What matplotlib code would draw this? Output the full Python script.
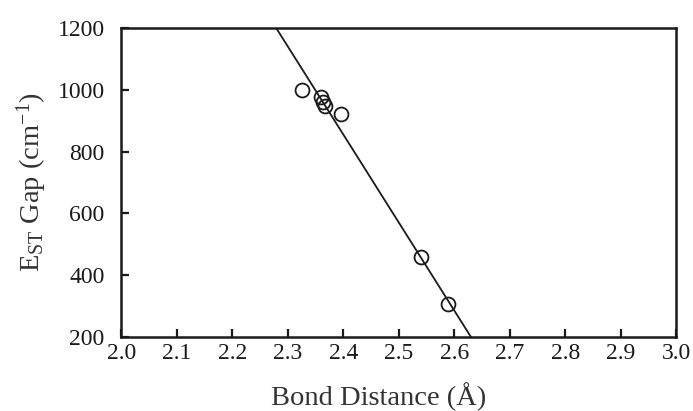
import matplotlib.pyplot as plt
import numpy as np

plt.rcParams['font.family'] = ['Liberation Serif', 'DejaVu Serif']
plt.rcParams['mathtext.fontset'] = 'custom'
plt.rcParams['mathtext.rm'] = 'Liberation Serif'
plt.rcParams['mathtext.it'] = 'Liberation Serif'

# points
bond = [2.325, 2.360, 2.364, 2.367, 2.395, 2.540, 2.588]
gap = [1000, 975, 960, 948, 922, 458, 308]

# fitted line: gap = slope * bond + intercept
slope = -2849.0
intercept = 1200 + 2849.0 * 2.279
fit_x = np.array([2.279, 2.630])

fig, ax = plt.subplots(figsize=(6.93, 4.11), dpi=100)
fig.subplots_adjust(left=0.175, right=0.976, top=0.932, bottom=0.18)

ax.plot(fit_x, slope * fit_x + intercept, color='#1a1a1a', lw=1.3)
ax.plot(bond, gap, 'o', mfc='none', mec='#1a1a1a', ms=10, mew=1.3)

ax.set_xlim(2.0, 3.0)
ax.set_ylim(200, 1200)
ax.set_xticks(np.arange(2.0, 3.01, 0.1))
ax.set_yticks(np.arange(200, 1201, 200))
ax.set_xticklabels(['%.1f' % v for v in np.arange(2.0, 3.01, 0.1)])

for s in ax.spines.values():
    s.set_linewidth(1.8)
    s.set_color('#1a1a1a')
ax.tick_params(direction='in', length=6, width=1.6, labelsize=17, colors='#1a1a1a')
ax.tick_params(axis='x', pad=4)
ax.tick_params(axis='y', pad=12)

ax.set_xlabel('Bond Distance (Å)', fontsize=20.5, color='#333333')
ax.xaxis.set_label_coords(0.463, -0.145)
ax.set_ylabel('E$_{\\mathrm{ST}}$ Gap (cm$^{-1}$)', fontsize=20.5, color='#333333', labelpad=6)

plt.savefig('out.png')
